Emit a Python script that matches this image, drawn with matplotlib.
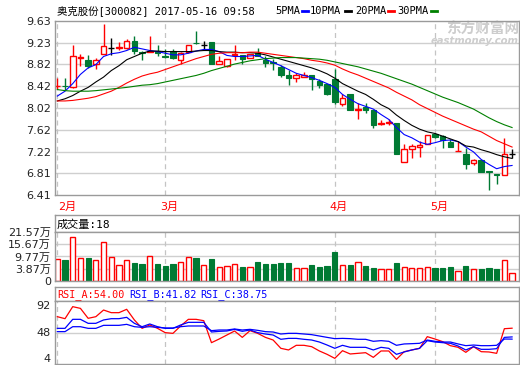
import numpy as np
import matplotlib
matplotlib.use("Agg")
import matplotlib.pyplot as plt
from matplotlib.lines import Line2D

# ==================== data ====================
OPENS = [8.42, 8.43, 8.40, 8.95, 8.91, 8.84, 9.02, 9.13, 9.13, 9.13,
         9.25, 9.05, 9.06, 9.08, 8.97, 9.08, 8.90, 9.05, 9.22, 9.19,
         9.23, 8.84, 8.80, 9.00, 9.00, 8.95, 9.03, 8.91, 8.86, 8.77,
         8.63, 8.58, 8.60, 8.63, 8.52, 8.46, 8.56, 8.10, 8.27, 7.99,
         8.04, 7.98, 7.73, 7.75, 7.75, 7.03, 7.27, 7.30, 7.36, 7.545,
         7.50, 7.39, 7.22, 7.18, 7.01, 7.07, 6.85, 6.80, 6.78, 7.18]
HIGHS = [8.57, 8.57, 9.19, 9.02, 8.99, 8.95, 9.575, 9.31, 9.24, 9.29,
         9.34, 9.08, 9.35, 9.19, 9.10, 9.11, 9.05, 9.19, 9.44, 9.25,
         9.24, 8.97, 8.93, 9.18, 9.00, 9.02, 9.13, 8.98, 8.92, 8.81,
         8.72, 8.66, 8.69, 8.63, 8.55, 8.46, 8.74, 8.27, 8.27, 8.11,
         8.12, 7.98, 7.80, 7.82, 7.75, 7.36, 7.36, 7.41, 7.53, 7.55,
         7.53, 7.45, 7.41, 7.29, 7.08, 7.07, 6.85, 6.80, 7.47, 7.26]
LOWS = [8.37, 8.35, 8.39, 8.79, 8.76, 8.74, 9.01, 8.99, 9.09, 9.10,
        9.01, 8.91, 9.05, 8.98, 8.94, 8.92, 8.84, 9.03, 9.20, 9.11,
        8.83, 8.83, 8.77, 8.91, 8.84, 8.94, 8.98, 8.77, 8.72, 8.60,
        8.45, 8.50, 8.60, 8.35, 8.39, 8.26, 8.10, 8.06, 7.98, 7.81,
        7.92, 7.66, 7.70, 7.70, 7.17, 7.03, 7.10, 7.12, 7.36, 7.46,
        7.29, 7.30, 7.22, 6.89, 6.96, 6.84, 6.50, 6.61, 6.78, 7.10]
CLOSES = [8.43, 8.42, 8.97, 8.96, 8.80, 8.90, 9.16, 9.13, 9.14, 9.25,
          9.08, 9.03, 9.07, 9.04, 8.96, 8.95, 9.04, 9.19, 9.21, 9.19,
          8.84, 8.89, 8.93, 9.02, 8.92, 9.01, 8.98, 8.85, 8.85, 8.63,
          8.58, 8.63, 8.62, 8.55, 8.45, 8.28, 8.13, 8.20, 7.99, 8.00,
          7.99, 7.71, 7.74, 7.76, 7.18, 7.27, 7.31, 7.33, 7.53, 7.48,
          7.43, 7.30, 7.23, 6.98, 7.065, 6.84, 6.84, 6.79, 7.18, 7.18]

MA5 = [8.24, 8.33, 8.47, 8.64, 8.76, 8.82, 8.97, 9.02, 9.04, 9.08,
       9.14, 9.11, 9.08, 9.06, 9.03, 9.00, 9.00, 9.03, 9.07, 9.10,
       9.10, 9.06, 8.99, 8.97, 8.97, 8.98, 8.99, 8.92, 8.86, 8.80,
       8.73, 8.66, 8.62, 8.58, 8.53, 8.47, 8.40, 8.27, 8.18, 8.10,
       8.05, 8.00, 7.90, 7.81, 7.66, 7.53, 7.47, 7.39, 7.35, 7.38,
       7.42, 7.43, 7.40, 7.30, 7.21, 7.07, 6.98, 6.90, 6.94, 6.96]
MA10 = [8.15, 8.19, 8.25, 8.33, 8.40, 8.50, 8.59, 8.71, 8.80, 8.91,
        8.97, 9.03, 9.07, 9.07, 9.06, 9.06, 9.06, 9.06, 9.07, 9.08,
        9.08, 9.06, 9.05, 9.05, 9.04, 9.04, 9.03, 9.00, 8.96, 8.92,
        8.88, 8.84, 8.80, 8.76, 8.71, 8.65, 8.57, 8.47, 8.40, 8.33,
        8.27, 8.18, 8.08, 8.01, 7.89, 7.79, 7.70, 7.63, 7.58, 7.55,
        7.50, 7.45, 7.40, 7.32, 7.30, 7.25, 7.21, 7.16, 7.12, 7.09]
MA20 = [8.15, 8.15, 8.16, 8.18, 8.20, 8.23, 8.28, 8.33, 8.40, 8.48,
        8.55, 8.61, 8.65, 8.68, 8.73, 8.78, 8.83, 8.88, 8.93, 8.97,
        9.01, 9.03, 9.04, 9.04, 9.04, 9.05, 9.05, 9.03, 9.01, 8.99,
        8.97, 8.95, 8.93, 8.90, 8.88, 8.85, 8.81, 8.74, 8.68, 8.63,
        8.57, 8.51, 8.45, 8.39, 8.31, 8.24, 8.17, 8.08, 8.01, 7.94,
        7.87, 7.81, 7.75, 7.69, 7.63, 7.58, 7.50, 7.42, 7.36, 7.30]
MA30 = [8.36, 8.34, 8.33, 8.33, 8.33, 8.34, 8.355, 8.37, 8.385, 8.40,
        8.42, 8.44, 8.45, 8.47, 8.50, 8.53, 8.56, 8.59, 8.62, 8.66,
        8.71, 8.75, 8.79, 8.83, 8.86, 8.89, 8.91, 8.93, 8.94, 8.95,
        8.95, 8.95, 8.94, 8.93, 8.92, 8.90, 8.87, 8.84, 8.81, 8.78,
        8.74, 8.70, 8.66, 8.61, 8.56, 8.51, 8.46, 8.40, 8.34, 8.28,
        8.22, 8.17, 8.12, 8.06, 8.00, 7.92, 7.84, 7.77, 7.71, 7.66]

# volume in 万 shares
VOLUMES = [8.66, 7.83, 19.15, 9.14, 9.14, 8.17, 16.73, 9.48, 5.61, 8.00,
           6.72, 6.24, 9.96, 6.24, 5.27, 6.24, 7.20, 9.48, 9.14, 5.61,
           8.66, 4.64, 5.13, 6.10, 4.79, 4.64, 7.20, 6.24, 6.24, 6.72,
           6.72, 4.16, 4.16, 5.76, 4.79, 5.27, 12.04, 5.61, 5.76, 7.06,
           5.27, 4.31, 3.68, 3.68, 6.72, 4.64, 4.16, 4.16, 4.64, 4.31,
           4.31, 4.79, 2.71, 5.27, 3.82, 3.82, 4.31, 3.82, 8.17, 1.74]

RSI_A = [70.1, 67.3, 84.1, 81.7, 67.8, 70.1, 79.4, 75.7, 75.7, 80.4,
         65.5, 53.8, 58.5, 53.8, 47.8, 46.8, 57.1, 66.4, 66.4, 64.5,
         33.8, 38.9, 44.5, 50.1, 41.2, 50.6, 46.8, 41.2, 37.5, 25.9,
         23.6, 30.1, 30.1, 28.2, 22.2, 17.5, 11.9, 22.6, 18.0, 18.9,
         19.8, 13.3, 22.2, 22.2, 10.5, 21.2, 23.6, 25.9, 42.2, 38.9,
         35.2, 29.6, 27.3, 20.3, 28.2, 21.2, 20.8, 18.9, 53.3, 54.0]
RSI_B = [53.8, 53.8, 66.4, 66.4, 60.8, 60.8, 65.5, 67.3, 67.3, 69.2,
         60.8, 56.1, 59.9, 56.1, 53.8, 53.8, 58.5, 62.2, 62.2, 62.2,
         48.7, 49.6, 50.1, 52.4, 49.6, 51.5, 47.8, 45.9, 44.5, 38.5,
         39.8, 39.8, 38.5, 37.5, 34.7, 30.5, 25.9, 30.1, 27.3, 27.3,
         27.3, 23.6, 27.3, 25.9, 17.5, 20.8, 23.6, 25.9, 36.6, 34.7,
         33.8, 32.9, 29.1, 23.6, 28.2, 24.5, 24.5, 25.4, 41.2, 41.82]
RSI_C = [49.2, 49.2, 56.1, 56.1, 53.8, 53.8, 58.0, 58.0, 58.0, 59.4,
         56.1, 55.2, 56.1, 55.2, 54.3, 54.3, 56.1, 57.1, 57.1, 57.1,
         50.6, 51.5, 51.5, 52.9, 51.5, 52.4, 51.0, 49.2, 48.7, 45.9,
         46.8, 46.8, 45.9, 45.0, 43.1, 41.2, 39.4, 39.8, 39.4, 38.5,
         38.5, 35.7, 36.6, 35.7, 30.1, 32.0, 32.4, 32.9, 37.5, 35.7,
         34.7, 34.7, 32.0, 29.6, 30.5, 29.6, 29.6, 30.1, 38.9, 38.75]

MONTH_LABELS = ["2月", "3月", "4月", "5月"]
MONTH_START = [0, 14, 36, 49]

PRICE_TICK_LABELS = ["9.63", "9.23", "8.82", "8.42", "8.02", "7.62", "7.22", "6.81", "6.41"]
VOL_TICKS = [21.57, 15.67, 9.77, 3.87]
VOL_TICK_LABELS = ["21.57万", "15.67万", "9.77万", "3.87万"]
RSI_TICKS = [92, 48, 4]

TITLE = "奥克股份[300082] 2017-05-16 09:58"
MA_NAMES = ["5PMA", "10PMA", "20PMA", "30PMA"]
VOL_TITLE = "成交量:18"
RSI_NAMES = ["RSI_A:54.00", "RSI_B:41.82", "RSI_C:38.75"]

# ==================== style ====================
W, H = 520, 365
RED = "#ff0000"
DOWN = "#007a33"
MA_COLORS = ["#0000ff", "#000000", "#ff0000", "#008000"]
FRAME = "#9a9a9a"
GRID = "#cfcfcf"
CJK = ["Noto Sans CJK SC", "DejaVu Sans"]
MONO = ["DejaVu Sans Mono", "Noto Sans CJK SC"]
SANS = ["DejaVu Sans", "Noto Sans CJK SC"]

plt.rcParams["font.family"] = SANS


def rect(x0, y0, x1, y1):
    return [x0 / W, 1 - y1 / H, (x1 - x0) / W, (y1 - y0) / H]


def frame(ax):
    for s in ax.spines.values():
        s.set_color(FRAME)
        s.set_linewidth(1.0)
    ax.tick_params(length=0, pad=3, labelsize=8, colors="#222222")


def month_lines(ax):
    for m in MONTH_START:
        ax.axvline(m, color="#c4c4c4", lw=0.9, ls=(0, (4, 3)), zorder=1)


x = np.arange(len(CLOSES))
o = np.array(OPENS)
c = np.array(CLOSES)
up = c > o
down = c < o
flat = c == o

fig = plt.figure(figsize=(W / 100, H / 100), dpi=100)

# ---------- price panel ----------
ax = fig.add_axes(rect(55, 20.7, 519, 195.3))
frame(ax)
ax.set_xlim(-0.3, 59.9)
ax.set_ylim(6.41, 9.63)
ax.set_xticks([])
ticks = np.linspace(9.63, 6.41, len(PRICE_TICK_LABELS))
ax.set_yticks(ticks)
ax.set_yticklabels(PRICE_TICK_LABELS)
for t in ticks[1:-1]:
    ax.axhline(t, color=GRID, lw=1.0, zorder=1)
month_lines(ax)

ax.text(1.0, 0.955, "东方财富网", transform=ax.transAxes, ha="right", va="center",
        family=CJK, fontsize=10.5, fontweight="bold", color="#cdcdcd", zorder=0.5)
ax.text(1.0, 0.885, "eastmoney.com", transform=ax.transAxes, ha="right", va="center",
        fontsize=7.2, fontweight="bold", style="italic", color="#cdcdcd", zorder=0.5)

cols = np.where(up, RED, np.where(down, DOWN, "#000000"))
ax.vlines(x, LOWS, HIGHS, colors=cols, lw=1.0, zorder=2)
ax.bar(x[up], (c - o)[up], bottom=o[up], width=0.72, facecolor="white",
       edgecolor=RED, lw=1.0, zorder=2.5)
ax.bar(x[down], (c - o)[down], bottom=o[down], width=0.72, facecolor=DOWN,
       edgecolor=DOWN, lw=0.8, zorder=2.5)
ax.hlines(o[flat], x[flat] - 0.36, x[flat] + 0.36, colors="#000000", lw=1.0, zorder=2.5)

for ma, col in zip([MA5, MA10, MA20, MA30], MA_COLORS):
    ax.plot(x, ma, color=col, lw=0.8, zorder=3)

for i, (lab, m) in enumerate(zip(MONTH_LABELS, MONTH_START)):
    if i == 0:
        ax.text(m + 0.1, -0.068, lab, transform=ax.get_xaxis_transform(),
                ha="left", va="center", color=RED, fontsize=8, family=SANS)
    else:
        ax.text(m + 0.5, -0.068, lab, transform=ax.get_xaxis_transform(),
                ha="center", va="center", color=RED, fontsize=8, family=SANS)

# ---------- title and MA legend ----------
fig.text(57 / W, 1 - 10.5 / H, TITLE, family=MONO, fontsize=7.5, va="center", ha="left")
legend_x = [275, 310, 355, 397]
dash_x = [(302, 308), (345, 351), (388, 394), (431, 437)]
for name, lx, (d0, d1), col in zip(MA_NAMES, legend_x, dash_x, MA_COLORS):
    fig.text(lx / W, 1 - 10.5 / H, name, family=MONO, fontsize=7.5, va="center", ha="left")
    fig.add_artist(Line2D([d0 / W, d1 / W], [1 - 11 / H, 1 - 11 / H], color=col,
                          lw=2.0, transform=fig.transFigure))

# ---------- volume panel ----------
axvh = fig.add_axes(rect(55, 215, 519, 232.3))
frame(axvh)
axvh.set_xticks([])
axvh.set_yticks([])
axvh.text(0.004, 0.45, VOL_TITLE, transform=axvh.transAxes, family=MONO,
          fontsize=8, va="center", ha="left")

axv = fig.add_axes(rect(55, 232.3, 519, 280.7))
frame(axv)
vol_floor = VOL_TICKS[-1] - (VOL_TICKS[-2] - VOL_TICKS[-1])
axv.set_xlim(-0.3, 59.9)
axv.set_ylim(vol_floor, VOL_TICKS[0])
axv.set_xticks([])
axv.set_yticks([vol_floor] + VOL_TICKS[::-1])
axv.set_yticklabels(["0"] + VOL_TICK_LABELS[::-1])
for t in VOL_TICKS[1:]:
    axv.axhline(t, color=GRID, lw=1.0, zorder=1)
month_lines(axv)
v = np.array(VOLUMES)
vup = c >= o
axv.bar(x[vup], v[vup] - vol_floor, bottom=vol_floor, width=0.68, facecolor="white",
        edgecolor=RED, lw=1.0, zorder=2)
axv.bar(x[~vup], v[~vup] - vol_floor, bottom=vol_floor, width=0.68, facecolor=DOWN,
        edgecolor=DOWN, lw=0.8, zorder=2)

# ---------- RSI panel ----------
axrh = fig.add_axes(rect(55, 286.7, 519, 301))
frame(axrh)
axrh.set_xticks([])
axrh.set_yticks([])
rsi_x = [0.004, 0.159, 0.314]
for name, rx, col in zip(RSI_NAMES, rsi_x, [RED, "#0000ff", "#0000ff"]):
    axrh.text(rx, 0.45, name, transform=axrh.transAxes, family=MONO, fontsize=7.3,
              va="center", ha="left", color=col)

axr = fig.add_axes(rect(55, 301, 519, 364))
frame(axr)
axr.set_xlim(-0.3, 59.9)
axr.set_ylim(RSI_TICKS[-1], RSI_TICKS[0])
axr.set_xticks([])
axr.set_yticks(RSI_TICKS)
axr.set_yticklabels([str(t) for t in RSI_TICKS])
for lbl, va in zip(axr.get_yticklabels(), ["top", "center", "bottom"]):
    lbl.set_va(va)
axr.axhline(RSI_TICKS[1], color=GRID, lw=1.0, zorder=1)
month_lines(axr)
axr.plot(x, RSI_A, color=RED, lw=0.9, zorder=3)
axr.plot(x, RSI_B, color="#0000ff", lw=0.9, zorder=3)
axr.plot(x, RSI_C, color="#0000ff", lw=0.9, zorder=3)

fig.savefig("out.png", dpi=100)
